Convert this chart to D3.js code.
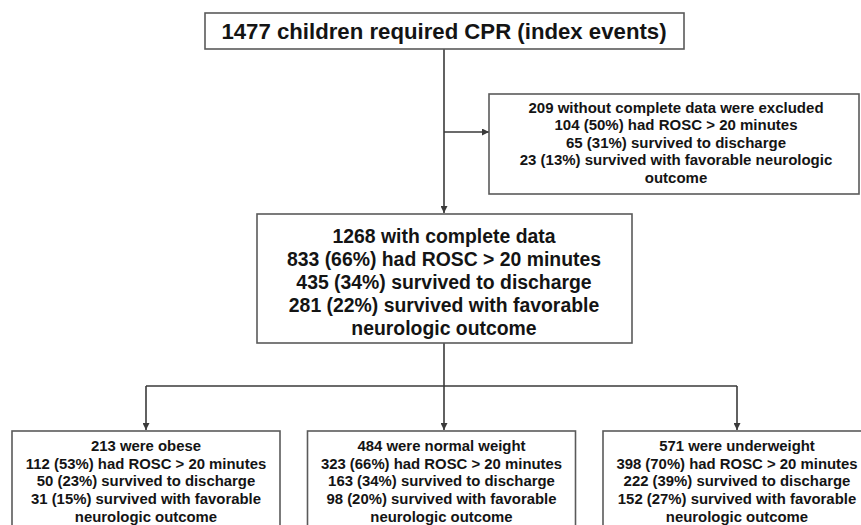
<!DOCTYPE html>
<html>
<head>
<meta charset="utf-8">
<script src="https://cdn.jsdelivr.net/npm/d3@7"></script>
<style>
  body { margin: 0; background: #fff; }
  svg { display: block; font-family: "Liberation Sans", Arial, sans-serif; font-weight: bold; }
</style>
</head>
<body>
<div id="chart"></div>
<script>
// flow chart data
var topLabel = "1477 children required CPR (index events)";
var excludedLines = [
  "209 without complete data were excluded",
  "104 (50%) had ROSC > 20 minutes",
  "65 (31%) survived to discharge",
  "23 (13%) survived with favorable neurologic",
  "outcome"
];
var completeLines = [
  "1268 with complete data",
  "833 (66%) had ROSC > 20 minutes",
  "435 (34%) survived to discharge",
  "281 (22%) survived with favorable",
  "neurologic outcome"
];
var groups = ["obese", "normal weight", "underweight"];
var groupN = [213, 484, 571];
var roscN = [112, 323, 398];
var roscPct = [53, 66, 70];
var dischargeN = [50, 163, 222];
var dischargePct = [23, 34, 39];
var favorableN = [31, 98, 152];
var favorablePct = [15, 20, 27];

var W = 861, H = 525;
var lineCol = "#3a3a3a", boxCol = "#5a5a5a", textCol = "#141414";

var svg = d3.select("#chart").append("svg")
  .attr("width", W).attr("height", H);

svg.append("defs").append("marker")
  .attr("id", "arr")
  .attr("viewBox", "0 0 10 10")
  .attr("refX", 10).attr("refY", 5)
  .attr("markerWidth", 7).attr("markerHeight", 7)
  .attr("markerUnits", "userSpaceOnUse")
  .attr("orient", "auto")
  .append("path").attr("d", "M0,0 L10,5 L0,10 Z").attr("fill", lineCol);

function box(x, y, w, h) {
  svg.append("rect")
    .attr("x", x).attr("y", y).attr("width", w).attr("height", h)
    .attr("fill", "#fff").attr("stroke", boxCol).attr("stroke-width", 1.6);
}
function lines(arr, cx, y0, step, size) {
  svg.append("g").selectAll("text").data(arr).enter().append("text")
    .attr("x", cx)
    .attr("y", function(d, i) { return y0 + i * step; })
    .attr("text-anchor", "middle")
    .attr("dominant-baseline", "central")
    .attr("font-size", size)
    .attr("fill", textCol)
    .text(function(d) { return d; });
}
function link(pts, arrow) {
  var p = svg.append("path")
    .attr("d", d3.line()(pts))
    .attr("fill", "none").attr("stroke", lineCol).attr("stroke-width", 1.6);
  if (arrow) p.attr("marker-end", "url(#arr)");
}

var mainX = 444;

// connectors
link([[mainX, 49], [mainX, 213]], true);
link([[mainX, 132], [489, 132]], true);
link([[mainX, 343], [mainX, 430]], true);

// top box
box(205, 13, 479, 36);
lines([topLabel], mainX, 31.5, 0, 22.2);

// excluded box
box(489, 94, 370, 100);
lines(excludedLines, 676, 107, 17.6, 15);

// complete data box
box(257, 214, 375, 129);
lines(completeLines, mainX, 236, 23, 19.4);

// groups
var xc = d3.scalePoint().domain(groups).range([146, 737]);
var bw = 268;
link([[xc(groups[0]), 386], [xc(groups[2]), 386]], false);
groups.forEach(function(g, i) {
  var cx = xc(g);
  if (i !== 1) link([[cx, 386], [cx, 430]], true);
  box(cx - bw / 2, 431, bw, 110);
  lines([
    groupN[i] + " were " + g,
    roscN[i] + " (" + roscPct[i] + "%) had ROSC > 20 minutes",
    dischargeN[i] + " (" + dischargePct[i] + "%) survived to discharge",
    favorableN[i] + " (" + favorablePct[i] + "%) survived with favorable",
    "neurologic outcome"
  ], cx, 446, 17.7, 14.9);
});
</script>
</body>
</html>
